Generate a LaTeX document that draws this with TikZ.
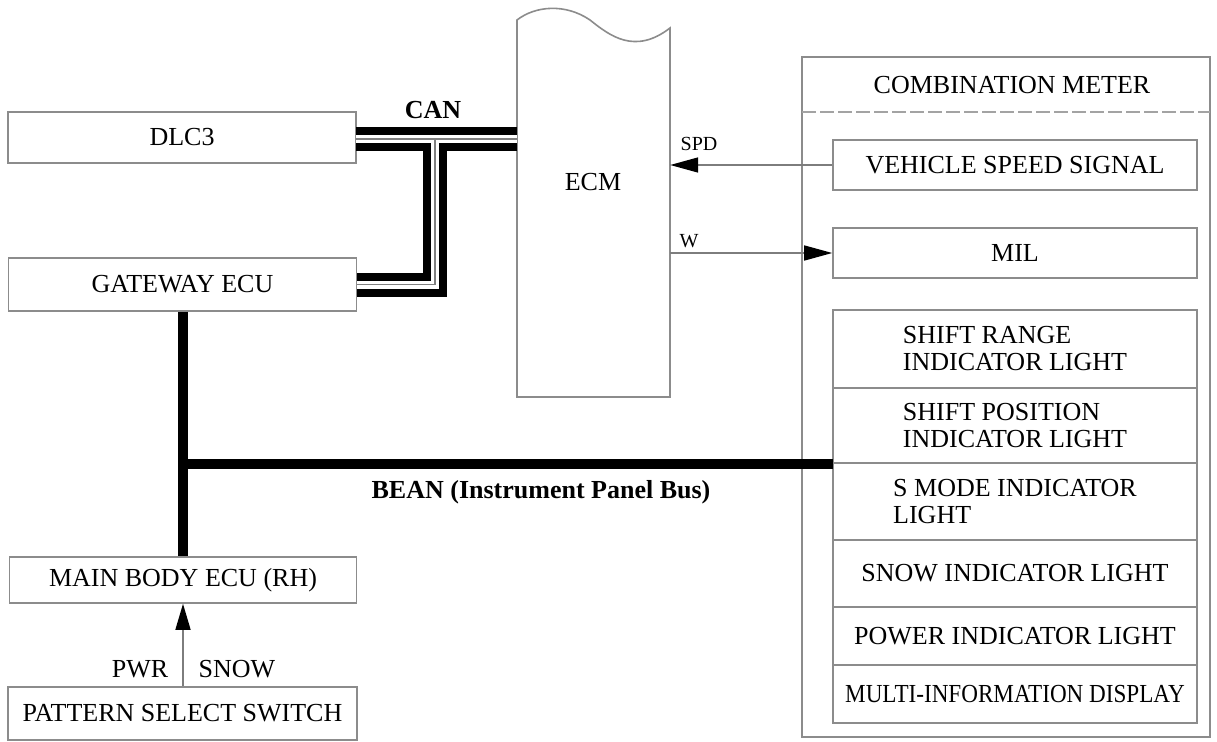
\documentclass[tikz,border=0pt]{standalone}
\usepackage{fontspec}
\setmainfont{Liberation Serif}
\usetikzlibrary{arrows.meta}
\definecolor{boxgray}{RGB}{140,140,140}
\definecolor{linegray}{RGB}{125,125,125}
\begin{document}
\begin{tikzpicture}[x=1pt,y=-1pt,
  box/.style={draw=boxgray, line width=1.6pt, inner sep=0pt, fill=white, font=\fontsize{26}{27}\selectfont, align=left},
  lbl/.style={inner sep=0pt, font=\fontsize{26}{27}\selectfont},
  small/.style={inner sep=0pt, font=\fontsize{20}{22}\selectfont},
  boldlbl/.style={inner sep=0pt, font=\fontsize{26}{27}\selectfont\bfseries},
  canouter/.style={line width=24pt, black},
  caninner/.style={line width=8pt, white},
  cancore/.style={line width=1.2pt, gray},
  bean/.style={line width=10pt, black},
  sig/.style={draw=linegray, line width=1.5pt, -{Triangle[length=28pt,width=15pt,black]}},
]
\useasboundingbox (0,0) rectangle (1217,741);

% left boxes
\node[box, minimum width=348pt, minimum height=51pt] (dlc) at (182,137.5) {DLC3};
\node[box, minimum width=348pt, minimum height=53pt] (gw) at (182.5,284.5) {GATEWAY ECU};
\node[box, minimum width=347pt, minimum height=46pt] (mb) at (183,580) {MAIN BODY ECU (RH)};
\node[box, minimum width=349pt, minimum height=53pt] (ps) at (182.5,713.5) {PATTERN SELECT SWITCH};

% ECM
\node[inner sep=0pt, minimum width=153pt, minimum height=370pt] (ecm) at (593.5,212) {};
\draw[draw=boxgray, line width=1.6pt, fill=white]
  (517,397) -- (517,20) .. controls (535,6) and (565,3) .. (590,20)
  .. controls (610,36) and (635,55) .. (670,28) -- (670,397) -- cycle;
\node[lbl] (ecmt) at (593,182) {ECM};

% combination meter
\node[draw=boxgray, line width=1.6pt, inner sep=0pt, minimum width=408pt, minimum height=680pt] (cm) at (1006,397) {};
\node[lbl] (cmt) at (1012,85) {COMBINATION METER};
\coordinate (dashL) at (802,112);
\coordinate (dashR) at (1210,112);
\draw[boxgray!80, line width=1.2pt, dash pattern=on 14pt off 4pt] (dashL) -- (dashR);

\node[box, minimum width=364pt, minimum height=50pt] (vss) at (1015,165) {VEHICLE SPEED SIGNAL};
\node[box, minimum width=364pt, minimum height=50pt] (mil) at (1015,253) {MIL};
\node[box, minimum width=364pt, minimum height=78pt] (s1) at (1015,349) {SHIFT RANGE\\INDICATOR LIGHT};
\node[box, minimum width=364pt, minimum height=75pt] (s2) at (1015,425.5) {SHIFT POSITION\\INDICATOR LIGHT};
\node[box, minimum width=364pt, minimum height=77pt] (s3) at (1015,501.5) {S MODE INDICATOR\\LIGHT};
\node[box, minimum width=364pt, minimum height=67pt] (s4) at (1015,573.5) {SNOW INDICATOR LIGHT};
\node[box, minimum width=364pt, minimum height=58pt] (s5) at (1015,636) {POWER INDICATOR LIGHT};
\node[box, minimum width=364pt, minimum height=58pt] (s6) at (1015,694) {\scalebox{0.89}[1]{MULTI-INFORMATION DISPLAY}};

% CAN bus
\coordinate (canj) at (435,139);
\coordinate (canl) at (356,139);
\foreach \st in {canouter,caninner,cancore}{
  \draw[\st] (canl) -- (canl -| ecm.west);
  \draw[\st, line join=miter] (canj) |- (gw.east);
}
\node[boldlbl] (can) at (433,110) {CAN};

% BEAN bus
\coordinate (beanj) at (183,464);
\coordinate (beanr) at (833,464);
\draw[bean] (gw.south) -- (gw.south |- mb.north);
\draw[bean] (beanj) -- (beanr);
\node[boldlbl] (beant) at (541,492) {BEAN (Instrument Panel Bus)};

% signals
\draw[sig] (vss.west) -- (vss.west -| ecm.east);
\node[small] (spd) at (699,144) {SPD};
\coordinate (wstart) at (670,253);
\draw[sig] (wstart) -- (mil.west);
\node[small] (w) at (689,241) {W};
\draw[sig, -{Triangle[length=26pt,width=15pt,black]}] (mb.south |- ps.north) -- (mb.south);
\node[lbl] (pwr) at (140,669) {PWR};
\node[lbl] (snow) at (237,669) {SNOW};
\end{tikzpicture}
\end{document}
